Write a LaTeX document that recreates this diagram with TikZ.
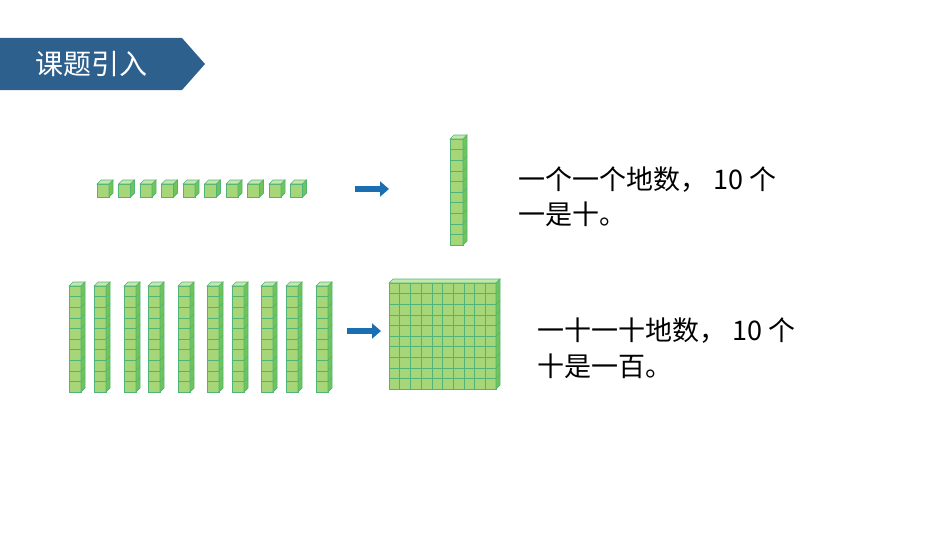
\documentclass[tikz,border=0pt]{standalone}
\usepackage{fontspec}
\setmainfont{Noto Sans CJK SC}
\definecolor{BannerColor}{RGB}{46,96,142}
\definecolor{ArrowColor}{RGB}{28,110,178}
\definecolor{FaceColor}{RGB}{166,214,120}
\definecolor{SideColor}{RGB}{112,196,88}
\definecolor{TopColor}{RGB}{196,232,168}
\definecolor{EdgeColor}{RGB}{80,180,120}
\usetikzlibrary{positioning, arrows.meta}
\tikzstyle{face} = [fill=FaceColor, draw=EdgeColor, line width=0.6pt]
\tikzstyle{side} = [fill=SideColor, draw=EdgeColor, line width=0.6pt]
\tikzstyle{topface} = [fill=TopColor, draw=EdgeColor, line width=0.6pt]
\tikzstyle{bluearrow} = [ArrowColor, line width=6pt, -{Triangle[length=9pt,width=15pt]}]
\tikzstyle{say} = [anchor=west, font=\fontsize{27}{30}\selectfont, inner sep=0pt]
% block: #1,#2 = corner, #3 width, #4 height, #5 depth, #6 columns, #7 rows
\newcommand{\block}[7]{%
  \fill[face] (#1,#2) rectangle ++(#3,#4);
  \foreach \r in {1,...,#7} {\draw[EdgeColor, line width=0.5pt] (#1,#2+\r*#4/#7) -- ++(#3,0);}
  \foreach \c in {1,...,#6} {\draw[EdgeColor, line width=0.5pt] (#1+\c*#3/#6,#2) -- ++(0,#4);}
  \filldraw[topface] (#1,#2) -- ++(#5,-#5) -- ++(#3,0) -- ++(-#5,#5) -- cycle;
  \filldraw[side] (#1+#3,#2) -- ++(#5,-#5) -- ++(0,#4) -- ++(-#5,#5) -- cycle;
  \foreach \r in {1,...,#7} {\draw[EdgeColor, line width=0.5pt] (#1+#3,#2+\r*#4/#7) -- ++(#5,-#5);}
}
\begin{document}
\begin{tikzpicture}[x=1pt, y=-1pt]
  \useasboundingbox (0,0) rectangle (950,535);
  % title banner
  \fill[BannerColor] (0,38) -- (182,38) -- (205,64) -- (182,90) -- (0,90) -- cycle;
  \node[say, text=white, font=\fontsize{28}{30}\selectfont] (title) at (35,64) {课题引入};

  % ones to a ten
  \foreach \i in {0,...,9} {\block{97+21.5*\i}{184}{12}{13}{4}{1}{1}}
  \coordinate (a1) at (355,189);
  \coordinate (b1) at (389,189);
  \draw[bluearrow] (a1) -- (b1);
  \block{450}{139}{13}{106}{4}{1}{10}
  \node[say] (txt1) at (518,180) {一个一个地数， 10 个};
  \node[say] (txt1b) at (518,214) {一是十。};

  % tens to a hundred
  \foreach \x in {69,94,124,148,178,207,232,261,286,316} {\block{\x}{286}{12}{106}{4}{1}{10}}
  \coordinate (a2) at (347,331);
  \coordinate (b2) at (381,331);
  \draw[bluearrow] (a2) -- (b2);
  \block{389}{283}{107}{106}{4}{10}{10}
  \node[say] (txt2) at (537,331) {一十一十地数， 10 个};
  \node[say] (txt2b) at (537,366) {十是一百。};
\end{tikzpicture}
\end{document}
